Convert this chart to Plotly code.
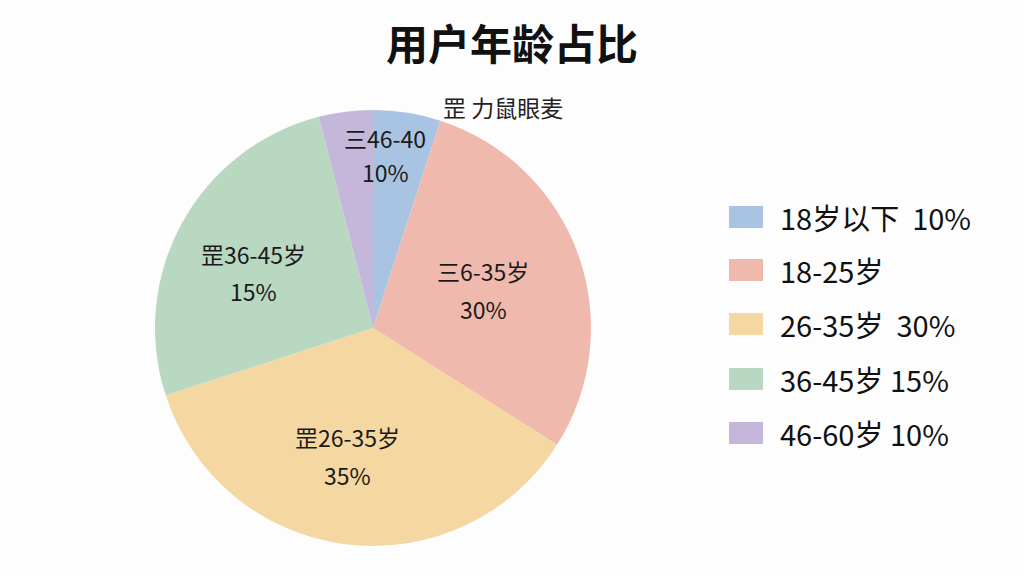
import plotly.graph_objects as go

categories = ["18岁以下", "18-25岁", "26-35岁", "36-45岁", "46-60岁"]
values = [5, 29, 36, 26, 4]
legend_labels = ["18岁以下  10%", "18-25岁", "26-35岁  30%", "36-45岁 15%", "46-60岁 10%"]
slice_names = ["三46-40", "三6-35岁", "罡26-35岁", "罡36-45岁", ""]
slice_pcts = ["10%", "30%", "35%", "15%", ""]
colors = ["#a9c4e2", "#efbaad", "#f5d7a2", "#b8d8c1", "#c5b7da"]

FONT = "Noto Sans CJK SC"
W, H = 1024, 576

fig = go.Figure()
fig.add_trace(go.Pie(
    labels=categories,
    values=values,
    sort=False,
    direction="clockwise",
    rotation=0,
    marker=dict(colors=colors, line=dict(width=0)),
    textinfo="none",
    hoverinfo="label+percent",
    showlegend=False,
    domain=dict(x=[155 / W, 591 / W], y=[1 - 546 / H, 1 - 110 / H]),
))

# In-slice label positions (pixels: x, name line y, pct line y)
label_pos = [(385, 138, 172), (483, 271, 309), (347, 437, 475), (253, 254, 291), (0, 0, 0)]
annotations = []
for name, pct, (px, y1, y2) in zip(slice_names, slice_pcts, label_pos):
    if not name:
        continue
    for t, py in ((name, y1), (pct, y2)):
        annotations.append(dict(
            x=px / W, y=1 - py / H, xref="paper", yref="paper",
            text=t, showarrow=False, xanchor="center", yanchor="middle",
            font=dict(family=FONT, size=23, color="#1a1a1a"),
        ))

# Top garbled caption
annotations.append(dict(
    x=503 / W, y=1 - 107 / H, xref="paper", yref="paper",
    text="罡 力鼠眼麦", showarrow=False, xanchor="center", yanchor="middle",
    font=dict(family=FONT, size=23, color="#222222"),
))

# Custom legend
shapes = []
leg_y = [217, 270, 324, 379, 433]
for col, lab, cy in zip(colors, legend_labels, leg_y):
    shapes.append(dict(
        type="rect", xref="paper", yref="paper",
        x0=729 / W, x1=763 / W, y0=1 - (cy + 11) / H, y1=1 - (cy - 11) / H,
        fillcolor=col, line=dict(width=0),
    ))
    annotations.append(dict(
        x=778 / W, y=1 - cy / H, xref="paper", yref="paper",
        text=lab, showarrow=False, xanchor="left", yanchor="middle",
        font=dict(family=FONT, size=29, color="#111111"),
    ))

fig.update_layout(
    width=W, height=H,
    margin=dict(l=0, r=0, t=0, b=0),
    paper_bgcolor="#fdfdfd",
    plot_bgcolor="#fdfdfd",
    title=dict(
        text="<b>用户年龄占比</b>", x=0.5, xanchor="center",
        y=1 - 45 / H, yanchor="middle",
        font=dict(family=FONT, size=42, color="#111111"),
    ),
    annotations=annotations,
    shapes=shapes,
)

fig.write_html("out.html", config={"displayModeBar": False},
               post_script="document.body.style.margin='0';")
